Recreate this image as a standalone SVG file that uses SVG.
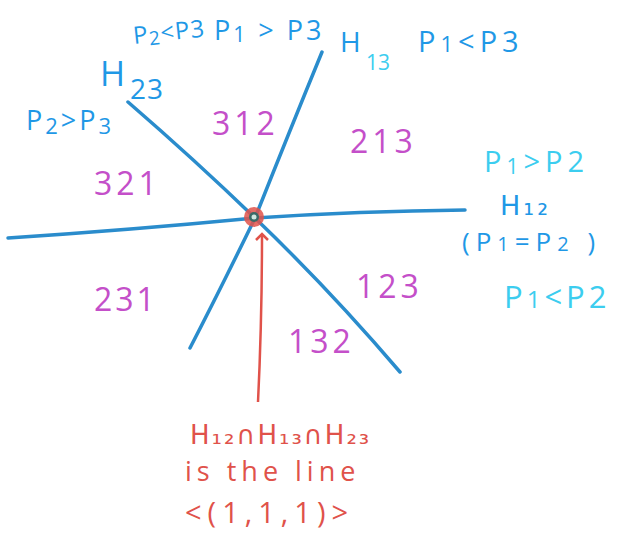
<svg xmlns="http://www.w3.org/2000/svg" width="618" height="535" viewBox="0 0 618 535">
<style>
.ln{stroke:#2a8ccc;stroke-width:3.5;fill:none;stroke-linecap:round}
.t{font-family:"Open Sans","DejaVu Sans",sans-serif}
.dv{font-family:"DejaVu Sans",sans-serif}
.blue{fill:#1f98e6}
.cyan{fill:#3ccdef}
.mag{fill:#c44fc9}
.red{fill:#e0524a}
.reg{font-size:32px}
.lab{font-size:27px}
</style>
<defs>
<marker id="ah" markerWidth="14" markerHeight="14" refX="7" refY="7" orient="auto" markerUnits="userSpaceOnUse">
<path d="M1,1 L7,7 L1,13" fill="none" stroke="#e0524a" stroke-width="2.5"/>
</marker>
</defs>
<rect width="618" height="535" fill="#fff"/>
<g id="connectors">
<path class="ln" d="M8,238 Q130,230 255,218 Q360,211 465,210"/>
<path class="ln" d="M322,52 Q290,130 255,218 Q220,290 190,348"/>
<path class="ln" d="M128,102 Q195,160 255,218 Q330,290 400,372"/>
<path d="M258,402 Q262,320 262,234" fill="none" stroke="#e0524a" stroke-width="2.5" marker-end="url(#ah)"/>
</g>
<g id="origin">
<circle cx="254" cy="217" r="10" fill="#e0524a" opacity="0.85"/>
<circle cx="254" cy="217" r="5" fill="#3a6a66"/>
<circle cx="254" cy="217" r="2.5" fill="#cfe8e0"/>
</g>
<g id="H23">
<text class="t blue" x="100" y="86" font-size="34">H</text>
<text class="t blue" x="130" y="99" font-size="28" letter-spacing="1">23</text>
<text class="t blue lab" x="26" y="130" letter-spacing="3">P<tspan font-size="22" dy="4">2</tspan><tspan dy="-4">&gt;P</tspan><tspan font-size="22" dy="4">3</tspan></text>
<text class="t blue" x="134" y="44" font-size="24" letter-spacing="1" transform="rotate(-6 134 44)">P<tspan font-size="19" dy="3">2</tspan><tspan dy="-3">&lt;P3</tspan></text>
</g>
<g id="H13">
<text class="t blue" x="340" y="52" font-size="28">H</text>
<text class="t cyan" x="366" y="70" font-size="21">13</text>
<text class="t blue lab" x="214" y="40" letter-spacing="3">P<tspan font-size="21" dy="2">1</tspan><tspan dy="-2"> &gt; P3</tspan></text>
<text class="t blue" x="418" y="52" font-size="29" letter-spacing="5">P<tspan font-size="22">1</tspan>&lt;P3</text>
</g>
<g id="H12">
<text class="t cyan" x="484" y="172" font-size="29" letter-spacing="5">P<tspan font-size="21" dy="2">1</tspan><tspan dy="-2">&gt;P2</tspan></text>
<text class="dv blue" x="500" y="215" font-size="27" letter-spacing="3">H₁₂</text>
<text class="t blue" x="462" y="251" font-size="26" letter-spacing="6">(P<tspan font-size="20">1</tspan>=P<tspan font-size="20">2</tspan> )</text>
<text class="t cyan" x="504" y="308" font-size="31" letter-spacing="4">P<tspan font-size="24">1</tspan>&lt;P2</text>
</g>
<g id="r312"><text class="t mag reg" x="212" y="135" letter-spacing="4">312</text></g>
<g id="r213"><text class="t mag reg" x="350" y="153" letter-spacing="4">213</text></g>
<g id="r321"><text class="t mag reg" x="94" y="195" letter-spacing="4">321</text></g>
<g id="r231"><text class="t mag reg" x="94" y="311" letter-spacing="3">231</text></g>
<g id="r123"><text class="t mag reg" x="356" y="298" letter-spacing="4">123</text></g>
<g id="r132"><text class="t mag reg" x="288" y="353" letter-spacing="4">132</text></g>
<g id="note">
<text class="dv red" x="190" y="444" font-size="26" letter-spacing="2">H₁₂∩H₁₃∩H₂₃</text>
<text class="t red" x="185" y="481" font-size="27" letter-spacing="5">is the line</text>
<text class="t red" x="185" y="523" font-size="29" letter-spacing="6">&lt;(1,1,1)&gt;</text>
</g>
</svg>
